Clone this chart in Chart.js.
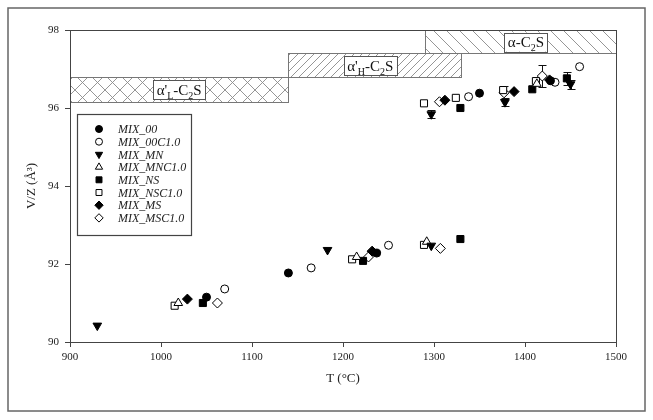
<!DOCTYPE html>
<html>
<head>
<meta charset="utf-8">
<script src="https://cdn.jsdelivr.net/npm/chart.js@4.4.1/dist/chart.umd.min.js"></script>
<style>
  html, body { margin: 0; padding: 0; background: #fff; }
  #wrap { width: 653px; height: 420px; }
</style>
</head>
<body>
<div id="wrap"><canvas id="chart" width="653" height="420"></canvas></div>
<script>
// Series names, in legend order
const seriesNames = ['MIX_00', 'MIX_00C1.0', 'MIX_MN', 'MIX_MNC1.0', 'MIX_NS', 'MIX_NSC1.0', 'MIX_MS', 'MIX_MSC1.0'];

// Temperature (°C) and V/Z (Å³)
const mix00T   = [1050, 1140, 1237, 1350, 1428];
const mix00V   = [91.15, 91.77, 92.28, 96.38, 96.70];
const mix00cT  = [1070, 1165, 1250, 1338, 1433, 1460];
const mix00cV  = [91.36, 91.90, 92.48, 96.29, 96.66, 97.06];
const mixMnT   = [930, 1183, 1297, 1297, 1378, 1450];
const mixMnV   = [90.42, 92.36, 92.47, 95.84, 96.15, 96.61];
const mixMncT  = [1019, 1215, 1292, 1413];
const mixMncV  = [91.00, 92.18, 92.57, 96.62];
const mixNsT   = [1046, 1222, 1329, 1329, 1408, 1446];
const mixNsV   = [91.00, 92.08, 92.64, 96.00, 96.48, 96.76];
const mixNscT  = [1015, 1210, 1289, 1289, 1324, 1376, 1412];
const mixNscV  = [90.93, 92.12, 92.49, 96.12, 96.26, 96.46, 96.69];
const mixMsT   = [1029, 1232, 1312, 1388, 1427];
const mixMsV   = [91.10, 92.33, 96.20, 96.42, 96.72];
const mixMscT  = [1062, 1228, 1307, 1306, 1377, 1419];
const mixMscV  = [91.00, 92.18, 92.40, 96.16, 96.39, 96.82];

// error bars (± in Å³), same index as the values, 0 = none
const mixMnErr  = [0, 0, 0, 0.10, 0.10, 0.12];
const mixNsErr  = [0, 0, 0, 0, 0, 0.17];
const mixMscErr = [0, 0, 0, 0, 0.17, 0.28];

// Phase stability fields: T range and V/Z band
const phaseNames = ["α'L", "α'H", 'α'];
const phaseTmin  = [900, 1140, 1290];
const phaseTmax  = [1140, 1330, 1500];
const phaseVmin  = [96.15, 96.79, 97.41];
const phaseVmax  = [96.79, 97.41, 98.0];
const phaseLabelT = [1020, 1230, 1401];
const phaseLabelV = [96.47, 97.08, 97.69];

const xTicks = [900, 1000, 1100, 1200, 1300, 1400, 1500];
const yTicks = [90, 92, 94, 96, 98];

const SERIF = '"Liberation Serif", "DejaVu Serif", serif';

function pts(xs, ys) {
    return xs.map((x, i) => ({ x: x, y: ys[i] }));
}

function marker(style, filled, radius, rotation) {
    return {
        pointStyle: style,
        pointRotation: rotation || 0,
        pointRadius: radius,
        pointHoverRadius: radius,
        pointBackgroundColor: filled ? '#000' : '#fff',
        pointBorderColor: '#000',
        pointBorderWidth: 1,
        showLine: false
    };
}

const datasets = [
    Object.assign({ label: seriesNames[0], data: pts(mix00T, mix00V) }, marker('circle', true, 4)),
    Object.assign({ label: seriesNames[1], data: pts(mix00cT, mix00cV) }, marker('circle', false, 4)),
    Object.assign({ label: seriesNames[2], data: pts(mixMnT, mixMnV), err: mixMnErr }, marker('triangle', true, 5, 180)),
    Object.assign({ label: seriesNames[3], data: pts(mixMncT, mixMncV) }, marker('triangle', false, 5)),
    Object.assign({ label: seriesNames[4], data: pts(mixNsT, mixNsV), err: mixNsErr }, marker('rect', true, 5)),
    Object.assign({ label: seriesNames[5], data: pts(mixNscT, mixNscV) }, marker('rect', false, 5)),
    Object.assign({ label: seriesNames[6], data: pts(mixMsT, mixMsV) }, marker('rectRot', true, 5)),
    Object.assign({ label: seriesNames[7], data: pts(mixMscT, mixMscV), err: mixMscErr }, marker('rectRot', false, 5))
];

/**
 * Hatch tile for the phase fields
 */
function makePattern(ctx, kind, step) {
    const c = document.createElement('canvas');
    c.width = step;
    c.height = step;
    const g = c.getContext('2d');
    g.strokeStyle = '#8a8a8a';
    g.lineWidth = 0.9;
    g.beginPath();
    if (kind === '/' || kind === 'x') {
        g.moveTo(-1, step + 1); g.lineTo(step + 1, -1);
        g.moveTo(-1, 1); g.lineTo(1, -1);
        g.moveTo(step - 1, step + 1); g.lineTo(step + 1, step - 1);
    }
    if (kind === '\\' || kind === 'x') {
        g.moveTo(-1, -1); g.lineTo(step + 1, step + 1);
        g.moveTo(step - 1, -1); g.lineTo(step + 1, 1);
        g.moveTo(-1, step - 1); g.lineTo(1, step + 1);
    }
    g.stroke();
    return ctx.createPattern(c, 'repeat');
}

// draw "α'X-C2S" with subscripts, centred on (cx, cy), inside a white box
function drawPhaseLabel(ctx, name, cx, cy) {
    const parts = [];
    if (name.length > 1) {
        parts.push({ t: "α'", sub: false }, { t: name.slice(2), sub: true });
    } else {
        parts.push({ t: 'α', sub: false });
    }
    parts.push({ t: '-C', sub: false }, { t: '2', sub: true }, { t: 'S', sub: false });
    const big = '15px ' + SERIF;
    const small = '10px ' + SERIF;
    let w = 0;
    parts.forEach(p => {
        ctx.font = p.sub ? small : big;
        p.w = ctx.measureText(p.t).width;
        w += p.w;
    });
    const bw = w + 7, bh = 19;
    ctx.fillStyle = '#fff';
    ctx.fillRect(cx - bw / 2, cy - bh / 2, bw, bh);
    ctx.strokeStyle = '#555';
    ctx.lineWidth = 1;
    ctx.strokeRect(Math.round(cx - bw / 2) + 0.5, Math.round(cy - bh / 2) + 0.5, Math.round(bw), bh);
    let x = cx - w / 2;
    ctx.fillStyle = '#111';
    ctx.textBaseline = 'alphabetic';
    ctx.textAlign = 'left';
    parts.forEach(p => {
        ctx.font = p.sub ? small : big;
        ctx.fillText(p.t, x, cy + 5 + (p.sub ? 4 : 0));
        x += p.w;
    });
}

const phasePlugin = {
    id: 'phases',
    beforeDatasetsDraw(chart) {
        const ctx = chart.ctx;
        const xs = chart.scales.x, ys = chart.scales.y;
        const fills = [makePattern(ctx, 'x', 15), makePattern(ctx, '/', 8), makePattern(ctx, '\\', 13)];
        ctx.save();
        phaseNames.forEach((n, i) => {
            const x0 = xs.getPixelForValue(phaseTmin[i]);
            const x1 = xs.getPixelForValue(phaseTmax[i]);
            const y0 = ys.getPixelForValue(phaseVmax[i]);
            const y1 = ys.getPixelForValue(phaseVmin[i]);
            ctx.fillStyle = '#fff';
            ctx.fillRect(x0, y0, x1 - x0, y1 - y0);
            ctx.fillStyle = fills[i];
            ctx.fillRect(x0, y0, x1 - x0, y1 - y0);
            ctx.strokeStyle = '#777';
            ctx.lineWidth = 1;
            ctx.strokeRect(Math.round(x0) + 0.5, Math.round(y0) + 0.5, Math.round(x1 - x0), Math.round(y1 - y0));
        });
        phaseNames.forEach((n, i) => {
            drawPhaseLabel(ctx, n, xs.getPixelForValue(phaseLabelT[i]), ys.getPixelForValue(phaseLabelV[i]));
        });
        // error bars under the markers
        ctx.strokeStyle = '#111';
        ctx.lineWidth = 1;
        chart.data.datasets.forEach(ds => {
            if (!ds.err) return;
            ds.data.forEach((p, j) => {
                const e = ds.err[j];
                if (!e) return;
                const px = Math.round(xs.getPixelForValue(p.x)) + 0.5;
                const ya = Math.round(ys.getPixelForValue(p.y + e)) + 0.5;
                const yb = Math.round(ys.getPixelForValue(p.y - e)) + 0.5;
                ctx.beginPath();
                ctx.moveTo(px, ya); ctx.lineTo(px, yb);
                ctx.moveTo(px - 4, ya); ctx.lineTo(px + 4, ya);
                ctx.moveTo(px - 4, yb); ctx.lineTo(px + 4, yb);
                ctx.stroke();
            });
        });
        ctx.restore();
    },
    afterDraw(chart) {
        const ctx = chart.ctx;
        const a = chart.chartArea;
        ctx.save();
        // frame of the plot
        ctx.strokeStyle = '#444';
        ctx.lineWidth = 1;
        ctx.strokeRect(Math.round(a.left) + 0.5, Math.round(a.top) + 0.5, Math.round(a.right - a.left), Math.round(a.bottom - a.top));
        // outer border of the figure
        ctx.strokeStyle = '#666';
        ctx.lineWidth = 1.5;
        ctx.strokeRect(8, 8, 637, 403);

        // legend box
        const lx = 77, ly = 114, lw = 114, lh = 121;
        ctx.fillStyle = '#fff';
        ctx.fillRect(lx, ly, lw, lh);
        ctx.strokeStyle = '#444';
        ctx.lineWidth = 1.2;
        ctx.strokeRect(lx + 0.5, ly + 0.5, lw, lh);
        ctx.font = 'italic 12px ' + SERIF;
        ctx.textBaseline = 'middle';
        ctx.textAlign = 'left';
        chart.data.datasets.forEach((ds, i) => {
            const y = 129 + i * 12.7;
            ctx.fillStyle = ds.pointBackgroundColor;
            ctx.strokeStyle = '#000';
            ctx.lineWidth = 1;
            Chart.helpers.drawPoint(ctx, {
                pointStyle: ds.pointStyle,
                rotation: ds.pointRotation,
                radius: ds.pointStyle === 'circle' ? 3.5 : 4.2,
                borderWidth: 1
            }, 99, y);
            ctx.fillStyle = '#222';
            ctx.fillText(ds.label, 118, y + 1);
        });
        ctx.restore();
    }
};

const ctx = document.getElementById('chart').getContext('2d');
new Chart(ctx, {
    type: 'scatter',
    data: { datasets: datasets },
    options: {
        responsive: false,
        animation: false,
        devicePixelRatio: 1,
        layout: { padding: { left: 20, right: 37, top: 30, bottom: 34 } },
        plugins: {
            legend: { display: false },
            tooltip: { enabled: false }
        },
        scales: {
            x: {
                type: 'linear',
                min: 900,
                max: 1500,
                afterBuildTicks: (s) => { s.ticks = xTicks.map(v => ({ value: v })); },
                afterFit: (s) => { s.height = 44; },
                grid: { drawOnChartArea: false, drawTicks: true, tickLength: 5, color: '#444' },
                border: { color: '#444', width: 1 },
                ticks: { color: '#222', font: { family: SERIF, size: 11 }, padding: 4, maxRotation: 0, callback: (v) => String(v) },
                title: { display: true, text: 'T (°C)', color: '#222', font: { family: SERIF, size: 13 }, padding: { top: 4, bottom: 0 } }
            },
            y: {
                type: 'linear',
                min: 90,
                max: 98,
                afterBuildTicks: (s) => { s.ticks = yTicks.map(v => ({ value: v })); },
                afterFit: (s) => { s.width = 50; },
                grid: { drawOnChartArea: false, drawTicks: true, tickLength: 5, color: '#444' },
                border: { color: '#444', width: 1 },
                ticks: { color: '#222', font: { family: SERIF, size: 11 }, padding: 6, callback: (v) => String(v) },
                title: { display: true, text: 'V/Z (Å³)', color: '#222', font: { family: SERIF, size: 13 }, padding: { bottom: 2 } }
            }
        }
    },
    plugins: [phasePlugin]
});
</script>
</body>
</html>
